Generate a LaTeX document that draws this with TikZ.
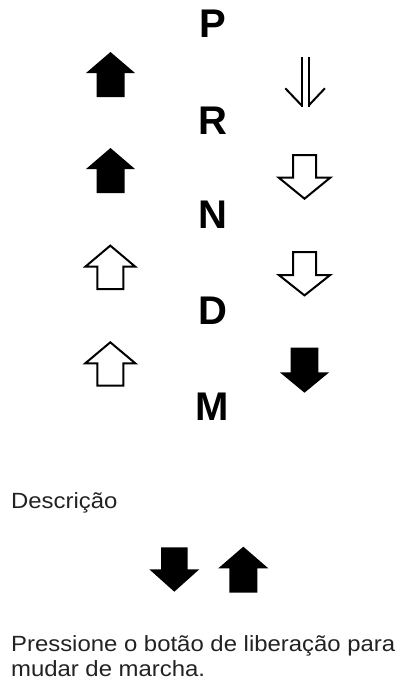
\documentclass[tikz,border=0pt]{standalone}
\usepackage{fontspec}
\setmainfont{Liberation Sans}
\definecolor{txt}{HTML}{222222}
% style, cx, top, base, bottom, hw, sw
\newcommand{\myup}[7]{%
  \path[#1] ({#2-#7},{#5}) -- ({#2-#7},{#4}) -- ({#2-#6},{#4}) -- ({#2},{#3}) -- ({#2+#6},{#4}) -- ({#2+#7},{#4}) -- ({#2+#7},{#5}) -- cycle;}
% style, cx, top, base, tip, hw, sw
\newcommand{\mydown}[7]{%
  \path[#1] ({#2-#7},{#3}) -- ({#2-#7},{#4}) -- ({#2-#6},{#4}) -- ({#2},{#5}) -- ({#2+#6},{#4}) -- ({#2+#7},{#4}) -- ({#2+#7},{#3}) -- cycle;}
\newcommand{\widetxt}[1]{\scalebox{1.087}[1]{#1}}
\begin{document}
\begin{tikzpicture}[x=1pt,y=-1pt,
  gear/.style={inner sep=0pt, font=\bfseries\fontsize{40}{40}\selectfont},
  solid arrow/.style={fill=black},
  hollow arrow/.style={draw=black, line width=2pt, line join=miter, fill=white},
  thin arrow/.style={draw=black, line width=2pt},
  body/.style={inner sep=0pt, anchor=base west, text=txt, font=\fontsize{22}{25}\selectfont}]
\useasboundingbox (0,0) rectangle (401,686);
% gear letters
\node[gear] (P) at (212.5,24.2) {P};
\node[gear] (R) at (212.5,120.3) {R};
\node[gear] (N) at (212.5,215) {N};
\node[gear] (D) at (212.5,310.8) {D};
\node[gear] (M) at (212.5,407) {M};
% left column
\myup{solid arrow}{110.5}{52}{73}{97}{24.5}{14}
\myup{solid arrow}{110.5}{148}{169}{193}{24.5}{14}
\myup{hollow arrow}{110.3}{245.6}{266.7}{289}{25}{13}
\myup{hollow arrow}{110.3}{342.3}{363.3}{385.7}{25}{13}
% right column
\draw[thin arrow] (301.7,57.3) -- (301.7,106.5);
\draw[thin arrow] (308.7,57.3) -- (308.7,106.5);
\draw[thin arrow] (285.3,88.3) -- (301.7,105.5);
\draw[thin arrow] (324.9,88.3) -- (308.7,105.5);
\mydown{hollow arrow}{304.5}{155}{177.7}{198.7}{25.7}{11.5}
\mydown{hollow arrow}{304.5}{252}{275}{295.4}{25.7}{11.5}
\mydown{solid arrow}{304.5}{347.7}{372.3}{392.7}{24.7}{13.8}
% description
\node[body] (desc) at (10.9,508.3) {\widetxt{Descrição}};
\mydown{solid arrow}{174.3}{547.3}{569.3}{591.7}{25}{13.3}
\myup{solid arrow}{243.3}{546.7}{568.3}{592.7}{25}{14}
\node[body] (l1) at (10.9,651.7) {\widetxt{Pressione o botão de liberação para}};
\node[body] (l2) at (10.9,676.7) {\widetxt{mudar de marcha.}};
\end{tikzpicture}
\end{document}
